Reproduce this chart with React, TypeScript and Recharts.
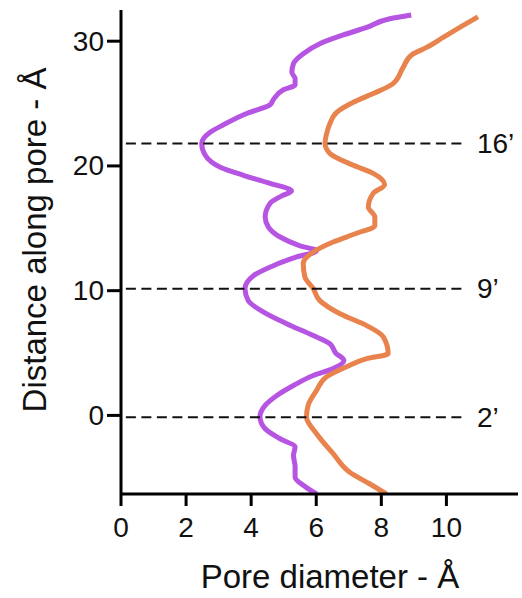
import { ComposedChart, Line, XAxis, YAxis, ReferenceLine } from 'recharts';

// Pore profile, read top to bottom (depth in Å, diameter in Å)
const closedDepth = [32.1, 31.8, 31.1, 30.5, 29.8, 29.0, 28.2, 27.5, 27.0, 26.5, 26.1, 25.3, 24.9, 24.2, 23.3, 22.7, 21.8, 20.85, 19.9, 19.25, 18.6, 18.0, 17.6, 17.0, 15.9, 15.1, 14.3, 13.6, 13.2, 12.7, 12.0, 11.2, 10.16, 9.2, 8.3, 7.35, 6.4, 5.75, 5.0, 4.4, 3.75, 3.2, 2.4, 1.6, 0.8, -0.13, -1.07, -1.87, -2.54, -3.2, -4.1, -4.95, -5.6, -6.3];
const closedDiameter = [8.92, 8.26, 7.55, 6.83, 6.11, 5.6, 5.3, 5.25, 5.35, 5.35, 4.99, 4.68, 4.58, 3.86, 3.15, 2.74, 2.48, 2.59, 3.05, 3.76, 4.58, 5.24, 4.94, 4.58, 4.43, 4.53, 4.89, 5.5, 6.01, 5.4, 4.68, 4.07, 3.81, 3.91, 4.37, 5.09, 5.91, 6.42, 6.6, 6.85, 6.52, 5.91, 5.3, 4.79, 4.43, 4.27, 4.43, 4.89, 5.35, 5.3, 5.35, 5.35, 5.6, 6.01];

const openDepth = [31.95, 31.1, 30.3, 29.5, 28.9, 27.9, 26.6, 25.8, 25.1, 24.3, 23.4, 22.6, 21.8, 21.0, 20.05, 19.4, 18.5, 17.8, 16.7, 15.9, 15.2, 14.6, 13.9, 13.1, 12.2, 11.1, 10.16, 9.2, 8.15, 7.2, 6.3, 4.95, 4.55, 3.9, 3.1, 2.0, 0.8, -0.13, -1.47, -3.07, -4.55, -5.5, -6.3];
const openDiameter = [10.97, 10.41, 9.9, 9.39, 8.93, 8.67, 8.36, 7.75, 7.14, 6.63, 6.42, 6.32, 6.27, 6.42, 7.14, 7.75, 8.1, 7.75, 7.6, 7.8, 7.8, 7.24, 6.52, 5.91, 5.6, 5.65, 5.91, 6.11, 6.73, 7.55, 8.06, 8.21, 7.55, 6.93, 6.32, 6.01, 5.75, 5.7, 6.01, 6.52, 7.03, 7.65, 8.16];

const residueLevels = [21.8, 10.15, -0.15];
const residueLabels = ['16\u2019', '9\u2019', '2\u2019'];

const xTicks = [0, 2, 4, 6, 8, 10];
const yTicks = [0, 10, 20, 30];

const FONT = '"Liberation Sans", Arial, Helvetica, sans-serif';
const PURPLE = '#b655e2';
const ORANGE = '#e8834e';

const toPoints = (xs: number[], ys: number[]) => xs.map((x, i) => ({ x, y: ys[i] }));

const closedData = toPoints(closedDiameter, closedDepth);
const openData = toPoints(openDiameter, openDepth);

const XTick = ({ x, y, payload }: any) => (
    <text x={x} y={y} dy={20} textAnchor="middle" fontSize={28} fontFamily={FONT} fill="#111">
        {payload.value}
    </text>
);

const YTick = ({ x, y, payload }: any) => (
    <text x={x} y={y} textAnchor="end" dominantBaseline="central" fontSize={28} fontFamily={FONT} fill="#111">
        {payload.value}
    </text>
);

export default function App() {
    return (
        <div style={{ position: 'absolute', left: 0, top: 0, width: 522, height: 598, background: '#fff', fontFamily: FONT }}>
            <ComposedChart layout="vertical" width={522} height={598} margin={{ top: 10, right: 4, bottom: 0, left: 0 }}>
                <XAxis
                    type="number"
                    dataKey="x"
                    domain={[0, 12.2]}
                    ticks={xTicks}
                    allowDataOverflow
                    height={104}
                    axisLine={{ stroke: '#000', strokeWidth: 3 }}
                    tickLine={{ stroke: '#000', strokeWidth: 3 }}
                    tickSize={12}
                    tickMargin={11}
                    tick={<XTick />}
                    label={{
                        content: () => (
                            <text x={330} y={588} textAnchor="middle" fontSize={33} fontFamily={FONT} fill="#111">
                                Pore diameter - Å
                            </text>
                        ),
                    }}
                />
                <YAxis
                    type="number"
                    dataKey="y"
                    domain={[-6.3, 32.5]}
                    ticks={yTicks}
                    reversed
                    allowDataOverflow
                    width={121}
                    axisLine={{ stroke: '#000', strokeWidth: 3 }}
                    tickLine={{ stroke: '#000', strokeWidth: 3 }}
                    tickSize={14}
                    tickMargin={3}
                    tick={<YTick />}
                    label={{
                        content: () => (
                            <text
                                x={46}
                                y={240}
                                transform="rotate(-90 46 240)"
                                textAnchor="middle"
                                fontSize={33}
                                fontFamily={FONT}
                                fill="#111"
                            >
                                Distance along pore - Å
                            </text>
                        ),
                    }}
                />
                <Line
                    data={closedData}
                    dataKey="x"
                    type="monotone"
                    stroke={PURPLE}
                    strokeWidth={5}
                    strokeLinejoin="round"
                    dot={false}
                    activeDot={false}
                    isAnimationActive={false}
                />
                <Line
                    data={openData}
                    dataKey="x"
                    type="monotone"
                    stroke={ORANGE}
                    strokeWidth={5}
                    strokeLinejoin="round"
                    dot={false}
                    activeDot={false}
                    isAnimationActive={false}
                />
                {residueLevels.map((lvl, i) => (
                    <ReferenceLine
                        key={residueLabels[i]}
                        segment={[{ x: 0.15, y: lvl }, { x: 10.6, y: lvl }]}
                        stroke="#111"
                        strokeWidth={2}
                        strokeDasharray="10 5.5"
                        ifOverflow="visible"
                        label={({ viewBox }: any) => (
                            <text
                                x={viewBox.x + viewBox.width + 11}
                                y={viewBox.y + viewBox.height / 2}
                                dominantBaseline="central"
                                fontSize={28}
                                fontFamily={FONT}
                                fill="#111"
                            >
                                {residueLabels[i]}
                            </text>
                        )}
                    />
                ))}
            </ComposedChart>
        </div>
    );
}
